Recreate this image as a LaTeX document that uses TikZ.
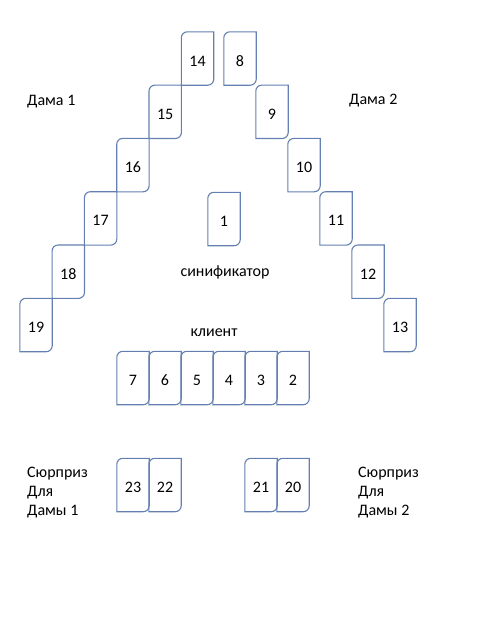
\documentclass[tikz,border=0pt]{standalone}
\usepackage{fontspec}
\setmainfont{Carlito}
\usetikzlibrary{positioning}

\definecolor{cardblue}{RGB}{100,128,176}

\begin{document}
\begin{tikzpicture}[
        x = 1pt, y = 1pt, % one unit is one pixel of the layout
        font = \fontsize{16}{19}\selectfont,
        card/.style = {minimum width=32pt, minimum height=53pt, inner sep=0pt,
                       text height=15pt, text depth=0pt}, % a tarot card, number a bit low
        cardline/.style = {draw=cardblue, line width=1.1pt},
        caption/.style = {anchor=west, align=left, inner sep=0pt}
        ]

  \useasboundingbox (0,0) rectangle (480,-640);

  % Dama 1 diagonal
  \node[card] (c14) at (197.5,-58.5) {14};
  \node[card] (c15) at (165.2,-111.8) {15};
  \node[card] (c16) at (132.9,-165.1) {16};
  \node[card] (c17) at (100.6,-218.4) {17};
  \node[card] (c18) at (68.3,-271.7) {18};
  \node[card] (c19) at (36,-325) {19};

  % Dama 2 diagonal
  \node[card] (c8) at (240,-58.5) {8};
  \node[card] (c9) at (272,-111.8) {9};
  \node[card] (c10) at (304,-165.1) {10};
  \node[card] (c11) at (336,-218.4) {11};
  \node[card] (c12) at (368,-271.7) {12};
  \node[card] (c13) at (400,-325) {13};

  % significator
  \node[card] (c1) at (224,-219) {1};

  % client row
  \node[card] (c7) at (133,-378) {7};
  \node[card] (c6) at (165,-378) {6};
  \node[card] (c5) at (197,-378) {5};
  \node[card] (c4) at (229,-378) {4};
  \node[card] (c3) at (261,-378) {3};
  \node[card] (c2) at (293,-378) {2};

  % surprises
  \node[card] (c23) at (133,-485) {23};
  \node[card] (c22) at (165,-485) {22};
  \node[card] (c21) at (261,-485) {21};
  \node[card] (c20) at (293,-485) {20};

  % card outlines, round corners top left and bottom right only
  \foreach \c in {c1,c2,c3,c4,c5,c6,c7,c8,c9,c10,c11,c12,c13,c14,c15,c16,c17,c18,c19,c20,c21,c22,c23}
    \draw[cardline] ([yshift=-6pt]\c.north west) arc[start angle=180, end angle=90, radius=6pt]
      -- (\c.north east) -- ([yshift=6pt]\c.south east) arc[start angle=0, end angle=-90, radius=6pt]
      -- (\c.south west) -- cycle;

  \node[caption] (dama1) at (27,-102) {Дама 1};
  \node[caption] (dama2) at (349,-101) {Дама 2};
  \node (sig) at (225,-272) {синификатор};
  \node (client) at (214,-333) {клиент};
  \node[caption] (surp1) at (27,-493) {Сюрприз\\Для\\Дамы 1};
  \node[caption] (surp2) at (358,-493) {Сюрприз\\Для\\Дамы 2};

\end{tikzpicture}
\end{document}
